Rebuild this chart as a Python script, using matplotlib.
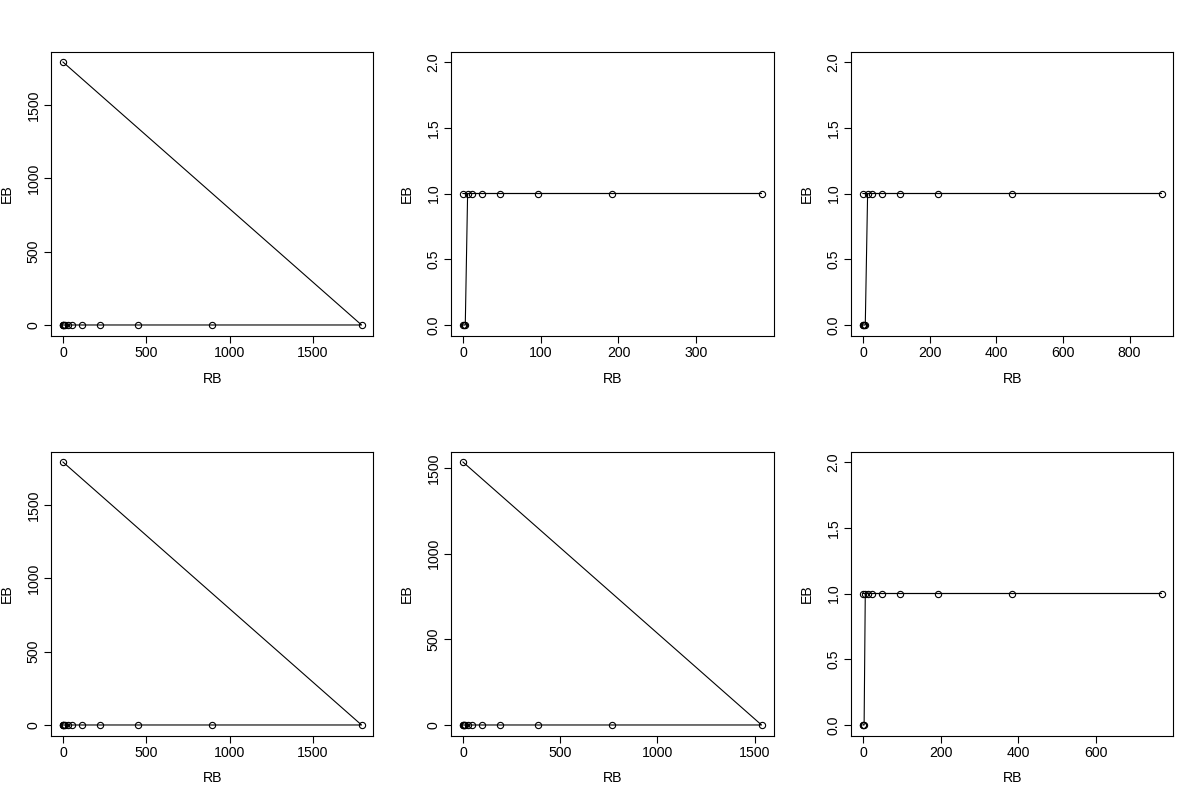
import matplotlib
matplotlib.use("Agg")
import matplotlib.pyplot as plt

plt.rcParams['font.family'] = ['Liberation Sans', 'DejaVu Sans']

# ---- data ----
RB1 = [0, 1792, 896, 448, 224, 112, 56, 28, 14, 7, 3, 1, 0]
EB1 = [1792, 0, 0, 0, 0, 0, 0, 0, 0, 0, 0, 0, 0]

RB2 = [0, 384, 192, 96, 48, 24, 12, 6, 3, 1, 0]
EB2 = [1, 1, 1, 1, 1, 1, 1, 1, 0, 0, 0]

RB3 = [0, 896, 448, 224, 112, 56, 28, 14, 7, 3, 1, 0]
EB3 = [1, 1, 1, 1, 1, 1, 1, 1, 0, 0, 0, 0]

RB4 = [0, 1792, 896, 448, 224, 112, 56, 28, 14, 7, 3, 1, 0]
EB4 = [1792, 0, 0, 0, 0, 0, 0, 0, 0, 0, 0, 0, 0]

RB5 = [0, 1536, 768, 384, 192, 96, 48, 24, 12, 6, 3, 1, 0]
EB5 = [1536, 0, 0, 0, 0, 0, 0, 0, 0, 0, 0, 0, 0]

RB6 = [0, 768, 384, 192, 96, 48, 24, 12, 6, 3, 1, 0]
EB6 = [1, 1, 1, 1, 1, 1, 1, 1, 1, 0, 0, 0]

xticks1 = [0, 500, 1000, 1500]
yticks1 = [0, 500, 1000, 1500]
xticks2 = [0, 100, 200, 300]
xticks3 = [0, 200, 400, 600, 800]
xticks5 = [0, 500, 1000, 1500]
yticks5 = [0, 500, 1000, 1500]
xticks6 = [0, 200, 400, 600]
yticks_bin = [0.0, 0.5, 1.0, 1.5, 2.0]
ylim_bin = (0, 2)

panels = [
    (RB1, EB1, xticks1, yticks1, None, '{:g}'),
    (RB2, EB2, xticks2, yticks_bin, ylim_bin, '{:.1f}'),
    (RB3, EB3, xticks3, yticks_bin, ylim_bin, '{:.1f}'),
    (RB4, EB4, xticks1, yticks1, None, '{:g}'),
    (RB5, EB5, xticks5, yticks5, None, '{:g}'),
    (RB6, EB6, xticks6, yticks_bin, ylim_bin, '{:.1f}'),
]

W, H = 1200, 800
fig = plt.figure(figsize=(12, 8), dpi=100)
fs = 10.2
lw = 0.8

def rlim(lo, hi):
    r = hi - lo
    return lo - 0.04 * r, hi + 0.04 * r

for i, (rb, eb, xt, yt, yl, yfmt) in enumerate(panels):
    row, col = divmod(i, 3)
    left_px = 400 * col + 51
    top_px = 400 * row + 51.5
    w_px, h_px = 322.5, 284
    ax = fig.add_axes([left_px / W, 1 - (top_px + h_px) / H, w_px / W, h_px / H])
    ax.plot(rb, eb, '-', color='black', lw=lw, zorder=2)
    ax.plot(rb, eb, 'o', mfc='none', mec='black', ms=4.5, mew=0.8, zorder=3)
    ax.set_xlim(*rlim(min(rb), max(rb)))
    if yl is None:
        ax.set_ylim(*rlim(min(eb), max(eb)))
    else:
        ax.set_ylim(*rlim(*yl))
    ax.set_xticks(xt)
    ax.set_xticklabels(['{:g}'.format(v) for v in xt])
    ax.set_yticks(yt)
    ax.set_yticklabels([yfmt.format(v) for v in yt], rotation=90, va='center')
    ax.tick_params(direction='out', length=5, width=lw, labelsize=fs, pad=2.5, color='black')
    for s in ax.spines.values():
        s.set_linewidth(lw)
    ax.set_xlabel('RB', fontsize=fs)
    ax.set_ylabel('EB', fontsize=fs)
    ax.xaxis.set_label_coords(0.5, -43 / h_px)
    ax.xaxis.label.set_va('center')
    ax.yaxis.set_label_coords(-44 / w_px, 0.5)
    ax.yaxis.label.set_va('center')
    ax.yaxis.label.set_ha('center')

fig.savefig('out.png', dpi=100, facecolor='white')
